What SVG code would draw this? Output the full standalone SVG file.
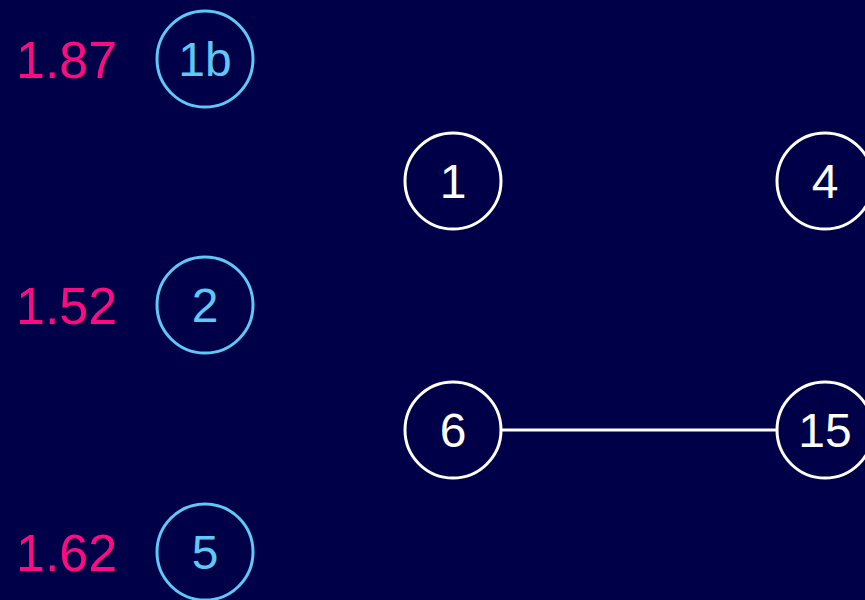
<svg xmlns="http://www.w3.org/2000/svg" width="865" height="600" viewBox="0 0 865 600">
<style>
.bg{fill:#000048}
.n circle{fill:none;stroke-width:3}
.w circle{stroke:#ffffff}
.b circle{stroke:#5ec8f7}
.n text{font-family:"Liberation Sans",Arial,sans-serif;font-size:48px;text-anchor:middle}
.w text{fill:#ffffff}
.b text{fill:#5ec8f7}
.lbl{font-family:"Liberation Sans",Arial,sans-serif;font-size:52px;fill:#ff0a80}
.edge{stroke:#ffffff;stroke-width:3;fill:none}
</style>
<rect class="bg" x="0" y="0" width="865" height="600"/>
<g id="connectors">
<line class="edge" x1="501" y1="430" x2="777" y2="430"/>
</g>
<text class="lbl" x="16" y="78">1.87</text>
<text class="lbl" x="16" y="324">1.52</text>
<text class="lbl" x="16" y="571">1.62</text>
<g id="n1b" class="n b"><circle cx="205" cy="59" r="48"/><text x="205" y="76">1b</text></g>
<g id="n2" class="n b"><circle cx="205" cy="305" r="48"/><text x="205" y="322">2</text></g>
<g id="n5" class="n b"><circle cx="205" cy="552" r="48"/><text x="205" y="569">5</text></g>
<g id="n1" class="n w"><circle cx="453" cy="181" r="48"/><text x="453" y="198">1</text></g>
<g id="n4" class="n w"><circle cx="825" cy="181" r="48"/><text x="825" y="198">4</text></g>
<g id="n6" class="n w"><circle cx="453" cy="430" r="48"/><text x="453" y="447">6</text></g>
<g id="n15" class="n w"><circle cx="825" cy="430" r="48"/><text x="825" y="447">15</text></g>
</svg>
